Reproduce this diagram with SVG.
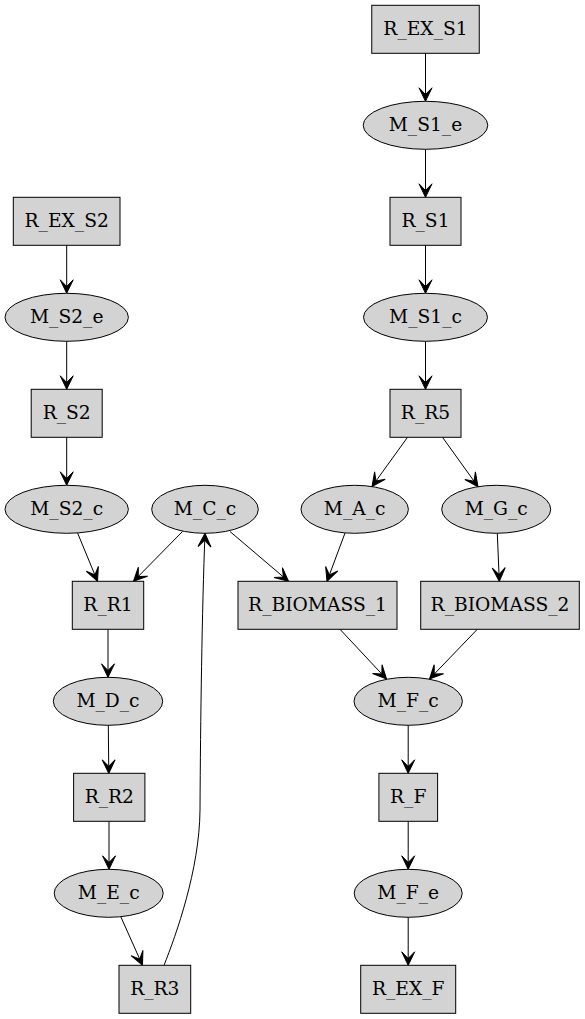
<svg xmlns="http://www.w3.org/2000/svg" width="585" height="1019" viewBox="0 0 585 1019">
<style>
.n rect, .n ellipse { fill: #d3d3d3; stroke: #000; stroke-width: 1; }
.n text { font-family: "DejaVu Serif", "Liberation Serif", serif; font-size: 18.67px; text-anchor: middle; fill: #000; }
.e path { fill: none; stroke: #000; stroke-width: 1; marker-end: url(#vee); }
</style>
<defs>
<marker id="vee" markerUnits="userSpaceOnUse" markerWidth="30" markerHeight="30" refX="13.5" refY="0" orient="auto" overflow="visible" viewBox="-15 -15 30 30">
<path d="M0,-6.5 L13.5,0 L0,6.5 L6.7,0 Z" fill="#000" stroke="#000" stroke-width="1"/>
</marker>
</defs>
<rect width="585" height="1019" fill="#fff"/>
<g class="e" id="connectors">
<path d="M425.5,53.3 L425.5,101.3"/>
<path d="M425.5,149.3 L425.5,197.3"/>
<path d="M425.5,245.3 L425.5,293.3"/>
<path d="M425.5,341.3 L425.5,389.3"/>
<path d="M407.5,437.3 L372,486.5"/>
<path d="M442.5,437.3 L478,486.7"/>
<path d="M345,533 L327,581.3"/>
<path d="M497.3,533.3 L499.3,581.3"/>
<path d="M66.7,245.3 L66.7,293.3"/>
<path d="M66.7,341.3 L66.7,389.3"/>
<path d="M66.7,437.3 L66.7,485.3"/>
<path d="M77.5,532.8 L97.5,581.3"/>
<path d="M182.5,531.5 L133.5,581.3"/>
<path d="M230,531.5 L288.5,581.3"/>
<path d="M108,629.3 L108,677.3"/>
<path d="M108.3,725.3 L108.8,773.3"/>
<path d="M109,821.3 L109,869.3"/>
<path d="M120.7,916.5 L142.5,965.3"/>
<path d="M164,965.3 C176,935 199.5,870 200,810 C200.5,720 202,610 205,533.3"/>
<path d="M340,629.3 L386.5,679"/>
<path d="M477.3,629.3 L429.5,679"/>
<path d="M408.2,725.3 L408.2,773.3"/>
<path d="M408.2,821.3 L408.2,869.3"/>
<path d="M408.2,917.3 L408.2,965.3"/>
</g>
<g class="n" id="R_EX_S1"><rect x="371.75" y="5.3" width="107.5" height="48"/><text x="425.5" y="34.6">R_EX_S1</text></g>
<g class="n" id="M_S1_e"><ellipse cx="425.5" cy="125.3" rx="62.3" ry="24"/><text x="425.5" y="130.6">M_S1_e</text></g>
<g class="n" id="R_S1"><rect x="390" y="197.3" width="71" height="48"/><text x="425.5" y="226.6">R_S1</text></g>
<g class="n" id="M_S1_c"><ellipse cx="425.5" cy="317.3" rx="62" ry="24"/><text x="425.5" y="322.6">M_S1_c</text></g>
<g class="n" id="R_R5"><rect x="390" y="389.3" width="71" height="48"/><text x="425.5" y="418.6">R_R5</text></g>
<g class="n" id="M_A_c"><ellipse cx="354.7" cy="509.3" rx="53.7" ry="24"/><text x="354.7" y="514.6">M_A_c</text></g>
<g class="n" id="M_G_c"><ellipse cx="496.2" cy="509.3" rx="54.5" ry="24"/><text x="496.2" y="514.6">M_G_c</text></g>
<g class="n" id="R_BIOMASS_1"><rect x="238" y="581.3" width="159" height="48"/><text x="317.5" y="610.6">R_BIOMASS_1</text></g>
<g class="n" id="R_BIOMASS_2"><rect x="420.7" y="581.3" width="158.6" height="48"/><text x="500" y="610.6">R_BIOMASS_2</text></g>
<g class="n" id="M_F_c"><ellipse cx="408.2" cy="701.3" rx="54.2" ry="24"/><text x="408.2" y="706.6">M_F_c</text></g>
<g class="n" id="R_F"><rect x="378.9" y="773.3" width="58.7" height="48"/><text x="408.2" y="802.6">R_F</text></g>
<g class="n" id="M_F_e"><ellipse cx="408.2" cy="893.3" rx="54" ry="24"/><text x="408.2" y="898.6">M_F_e</text></g>
<g class="n" id="R_EX_F"><rect x="360.7" y="965.3" width="95" height="48"/><text x="408.2" y="994.6">R_EX_F</text></g>
<g class="n" id="R_EX_S2"><rect x="13.3" y="197.3" width="106.7" height="48"/><text x="66.7" y="226.6">R_EX_S2</text></g>
<g class="n" id="M_S2_e"><ellipse cx="66.7" cy="317.3" rx="61.7" ry="24"/><text x="66.7" y="322.6">M_S2_e</text></g>
<g class="n" id="R_S2"><rect x="31.2" y="389.3" width="71" height="48"/><text x="66.7" y="418.6">R_S2</text></g>
<g class="n" id="M_S2_c"><ellipse cx="66.7" cy="509.3" rx="61.7" ry="24"/><text x="66.7" y="514.6">M_S2_c</text></g>
<g class="n" id="M_C_c"><ellipse cx="205" cy="509.3" rx="53.3" ry="24"/><text x="205" y="514.6">M_C_c</text></g>
<g class="n" id="R_R1"><rect x="72.3" y="581.3" width="71.4" height="48"/><text x="108" y="610.6">R_R1</text></g>
<g class="n" id="M_D_c"><ellipse cx="108" cy="701.3" rx="54.7" ry="24"/><text x="108" y="706.6">M_D_c</text></g>
<g class="n" id="R_R2"><rect x="73.6" y="773.3" width="71.3" height="48"/><text x="109.3" y="802.6">R_R2</text></g>
<g class="n" id="M_E_c"><ellipse cx="108.7" cy="893.3" rx="54.5" ry="24"/><text x="108.7" y="898.6">M_E_c</text></g>
<g class="n" id="R_R3"><rect x="119" y="965.3" width="71.7" height="48"/><text x="154.8" y="994.6">R_R3</text></g>
</svg>
